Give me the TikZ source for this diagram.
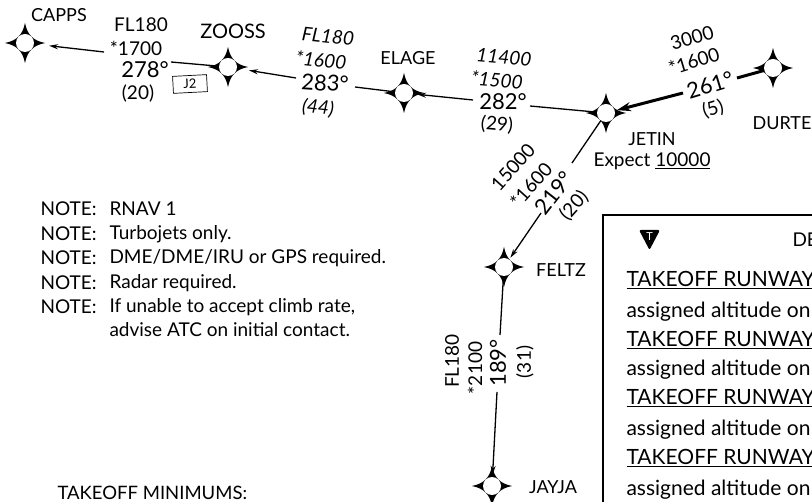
\documentclass[tikz,border=0pt]{standalone}
\usepackage{fontspec}
\setmainfont{Lato}
\usetikzlibrary{arrows.meta}

\tikzset{
    fix/.style={circle, inner sep=0pt, minimum size=18pt, fill=white},
    leg/.style={line width=1.3pt, -{Stealth[length=9pt,width=5pt]}, shorten >=#1},
    leg/.default=12pt,
    plain leg/.style={line width=1.3pt},
    fixname/.style={font=\fontsize{18}{18}\selectfont},
    info/.style={font=\fontsize{19}{19}\selectfont},
    crs/.style={font=\fontsize{22}{22}\selectfont},
    note/.style={font=\fontsize{19}{19}\selectfont, anchor=west},
    row/.style={font=\fontsize{21}{21}\selectfont, anchor=west}
}

% four pointed star with a white middle
\newcommand{\waypoint}[2]{
    \begin{scope}[shift={(#2)}]
        \fill (-20,0) .. controls (-8,-2.5) and (-2.5,-8) .. (0,-20)
            .. controls (2.5,-8) and (8,-2.5) .. (20,0)
            .. controls (8,2.5) and (2.5,8) .. (0,20)
            .. controls (-2.5,8) and (-8,2.5) .. (-20,0) -- cycle;
    \end{scope}
    \node[fix] (#1) at (#2) {};
}

\begin{document}
\begin{tikzpicture}[x=1pt,y=-1pt]
    \useasboundingbox (0,0) rectangle (812,502);
    \clip (0,0) rectangle (812,502);

    % waypoints
    \waypoint{capps}{25,43}
    \waypoint{zooss}{228,67}
    \waypoint{elage}{404,93}
    \waypoint{jetin}{606,113}
    \waypoint{durte}{773,68}
    \waypoint{feltz}{504,267}
    \waypoint{jayja}{492,486}

    % free ends of the legs
    \coordinate (a1) at (104,52);
    \coordinate (a2) at (171,62);
    \coordinate (b1) at (296,78);
    \coordinate (b2) at (355,87);
    \coordinate (c1) at (473,100);
    \coordinate (c2) at (530,106);
    \coordinate (d1) at (683,93);
    \coordinate (d2) at (737,78);
    \coordinate (e1) at (541,213);
    \coordinate (e2) at (572,163);
    \coordinate (f1) at (497,392);
    \coordinate (f2) at (500,335);

    % legs
    \draw[leg=15pt] (a1) -- (capps);
    \draw[plain leg] (a2) -- (zooss);
    \draw[leg=12pt] (b1) -- (zooss);
    \draw[plain leg] (b2) -- (elage);
    \draw[leg=4pt] (c1) -- (elage);
    \draw[plain leg] (c2) -- (jetin);
    \draw[line width=3pt, -{Stealth[length=14pt,width=9pt]}, shorten >=2pt] (d1) -- (jetin);
    \draw[line width=3pt] (d2) -- (durte);
    \draw[plain leg] (e2) -- (jetin);
    \draw[leg=2pt] (e1) -- (feltz);
    \draw[plain leg] (f2) -- (feltz);
    \draw[leg=2pt] (f1) -- (jayja);

    % waypoint names
    \node[fixname] (cappsname) at (59,15) {CAPPS};
    \node[fixname, font=\fontsize{20}{20}\selectfont] (zoossname) at (233,31) {ZOOSS};
    \node[fixname] (elagename) at (408,58) {ELAGE};
    \node[fixname] (jetinname) at (652,139) {JETIN};
    \node[fixname, font=\fontsize{19}{19}\selectfont] (expect) at (652,161) {Expect \underline{10000}};
    \node[fixname] (durtename) at (782,123) {DURTE};
    \node[fixname] (feltzname) at (561,270) {FELTZ};
    \node[fixname] (jayjaname) at (553,487) {JAYJA};

    % first leg
    \node[info] (a3) at (141,25) {FL180};
    \node[info] (a4) at (136,48) {*1700};
    \node[crs] (a5) at (145,70) {278°};
    \node[info] (a6) at (138,94) {(20)};
    \node[draw, rotate=3, line width=0.7pt, minimum width=34pt, minimum height=17pt, inner sep=0pt, font=\fontsize{13}{13}\selectfont] (j2) at (190,84) {J2};

    % second leg
    \node[info, rotate=-6] (b3) at (328,36) {\itshape FL180};
    \node[info, rotate=-6] (b4) at (321,60) {\itshape *1600};
    \node[crs, rotate=-4] (b5) at (325,83) {283°};
    \node[info, rotate=-6] (b6) at (318,108) {\itshape (44)};

    % third leg
    \node[info, rotate=-5] (c3) at (504,57) {\itshape 11400};
    \node[info, rotate=-5] (c4) at (497,80) {\itshape *1500};
    \node[crs] (c5) at (503,102) {282°};
    \node[info, rotate=-5] (c6) at (497,125) {(29)};

    % fourth leg
    \node[info, rotate=17] (d3) at (692,38) {3000};
    \node[info, rotate=17] (d4) at (694,61) {*1600};
    \node[crs, rotate=17] (d5) at (710,85) {261°};
    \node[info, rotate=17] (d6) at (713,109) {(5)};

    % fifth leg
    \node[info, rotate=48] (e3) at (513,167) {15000};
    \node[info, rotate=48] (e4) at (531,185) {*1600};
    \node[crs, rotate=52] (e5) at (554,193) {219°};
    \node[info, rotate=48] (e6) at (574,206) {(20)};

    % sixth leg
    \node[info, rotate=90] (f3) at (452,361) {FL180};
    \node[info, rotate=90] (f4) at (475,368) {*2100};
    \node[crs, rotate=90] (f5) at (498,363) {189°};
    \node[info, rotate=90] (f6) at (525,362) {(31)};

    % notes
    \foreach \rowy/\rowtext [count=\i] in {209/RNAV 1, 234/Turbojets only., 258/{DME/DME/IRU or GPS required.}, 283/Radar required., 307/{If unable to accept climb rate,}} {
        \node[note] (notehead\i) at (37,\rowy) {NOTE:};
        \node[note] (notetext\i) at (106,\rowy) {\rowtext};
    }
    \node[note] (notetext6) at (106,330) {advise ATC on initial contact.};
    \node[note, font=\fontsize{18.5}{18.5}\selectfont] (minimums) at (54,493) {TAKEOFF MINIMUMS:};

    % description box
    \draw[line width=2pt] (603,520) -- (603,215) -- (830,215);
    \fill[rounded corners=2pt] (639,230) -- (660,230) -- (649.5,250) -- cycle;
    \node[text=white, font=\fontsize{11}{11}\selectfont] (tletter) at (649.5,237) {T};
    \node[row, font=\fontsize{19}{19}\selectfont] (head) at (789,240) {DE};
    \foreach \rowa/\rowb [count=\i] in {280/312, 340/370, 398/430, 458/490} {
        \node[row] (runway\i) at (623,\rowa) {\underline{TAKEOFF RUNWAY}};
        \node[row] (assigned\i) at (623,\rowb) {assigned altitude on};
    }
\end{tikzpicture}
\end{document}
